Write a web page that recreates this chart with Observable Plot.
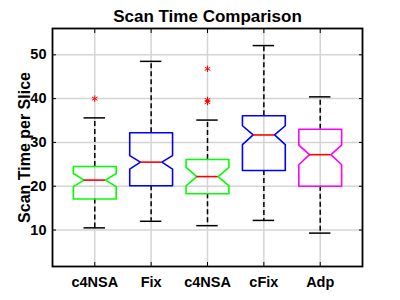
<!DOCTYPE html>
<html><head><meta charset="utf-8">
<script src="https://cdn.jsdelivr.net/npm/d3@7"></script>
<script src="https://cdn.jsdelivr.net/npm/@observablehq/plot@0.6"></script>
<style>body{margin:0;background:#fff}</style>
</head><body><div id="chart"></div>
<script>
// ---- data ----
const categories = ["c4NSA", "Fix", "c4NSA", "cFix", "Adp"];
const q1      = [17.1, 20.1, 18.3, 23.6, 20.0];
const q3      = [24.5, 32.2, 26.1, 36.1, 33.0];
const medians = [21.4, 25.5, 22.2, 31.7, 27.2];
const notchLo = [19.9, 23.9, 20.1, 29.5, 24.9];
const notchHi = [22.9, 27.0, 24.3, 33.8, 29.4];
const whiskLo = [10.5, 12.0, 11.0, 12.2, 9.3];
const whiskHi = [35.6, 48.5, 35.1, 52.1, 40.4];
const outlierGroup = [1, 3, 3, 3];
const outlierValue = [40.0, 46.8, 39.7, 39.2];
const yTicks = [10, 20, 30, 40, 50];

// ---- style ----
const boxColors = ["#00ff00", "#0000ff", "#00ff00", "#0000ff", "#ff00ff"];
const W = 0.38, N = 0.19, C = 0.19;

const idx = categories.map((_, i) => i);
const xTicks = idx.map(i => i + 1);
const outline = [];
idx.forEach(i => {
  const x = i + 1;
  [[x - W, q3[i]], [x + W, q3[i]], [x + W, notchHi[i]], [x + N, medians[i]], [x + W, notchLo[i]],
   [x + W, q1[i]], [x - W, q1[i]], [x - W, notchLo[i]], [x - N, medians[i]], [x - W, notchHi[i]], [x - W, q3[i]]]
    .forEach(p => outline.push({g: i, x: p[0], y: p[1], color: boxColors[i]}));
});
const outliers = outlierGroup.map((g, k) => ({g, v: outlierValue[k]}));
const blank = () => "";

const chart = Plot.plot({
  width: 400, height: 300,
  marginLeft: 52, marginRight: 38, marginTop: 28, marginBottom: 34,
  style: {fontFamily: "'Liberation Sans', Arial, sans-serif", fontSize: "14.5px", fontWeight: "bold", background: "white", color: "black"},
  x: {domain: [0.25, 5.75], label: null},
  y: {domain: [1.68, 56], label: null},
  marks: [
    Plot.gridX({ticks: xTicks, stroke: "#d4d4d4", strokeOpacity: 1, strokeWidth: 1.5}),
    Plot.gridY({ticks: yTicks, stroke: "#d4d4d4", strokeOpacity: 1, strokeWidth: 1.5}),
    Plot.ruleX(idx, {x: i => i + 1, y1: i => q3[i], y2: i => whiskHi[i], stroke: "black", strokeWidth: 1.5, strokeDasharray: "5,3"}),
    Plot.ruleX(idx, {x: i => i + 1, y1: i => q1[i], y2: i => whiskLo[i], stroke: "black", strokeWidth: 1.5, strokeDasharray: "5,3"}),
    Plot.ruleY(idx, {y: i => whiskHi[i], x1: i => i + 1 - C, x2: i => i + 1 + C, stroke: "black", strokeWidth: 1.5}),
    Plot.ruleY(idx, {y: i => whiskLo[i], x1: i => i + 1 - C, x2: i => i + 1 + C, stroke: "black", strokeWidth: 1.5}),
    Plot.line(outline, {x: "x", y: "y", z: "g", stroke: d => d.color, strokeWidth: 1.6}),
    Plot.ruleY(idx, {y: i => medians[i], x1: i => i + 1 - N, x2: i => i + 1 + N, stroke: "#ff0000", strokeWidth: 1.6}),
    Plot.dot(outliers, {x: "g", y: "v", symbol: "asterisk", r: 3, stroke: "#ff0000", strokeWidth: 1}),
    Plot.frame({stroke: "black", strokeWidth: 1.8}),
    Plot.axisX({ticks: xTicks, tickFormat: i => categories[i - 1], tickSize: 0, tickPadding: 10}),
    Plot.axisY({ticks: yTicks, tickSize: 0, tickPadding: 6}),
    Plot.axisX({ticks: xTicks, tickFormat: blank, tickSize: 4, dy: -4}),
    Plot.axisX({anchor: "top", ticks: xTicks, tickFormat: blank, tickSize: 4, dy: 4}),
    Plot.axisY({ticks: yTicks, tickFormat: blank, tickSize: 4, dx: 4}),
    Plot.axisY({anchor: "right", ticks: yTicks, tickFormat: blank, tickSize: 4, dx: -4}),
    Plot.text(["Scan Time Comparison"], {text: d => d, frameAnchor: "top", lineAnchor: "bottom", dy: -7, fontSize: 17, fontWeight: "bold"}),
    Plot.text(["Scan Time per Slice"], {text: d => d, frameAnchor: "left", textAnchor: "middle", rotate: -90, lineAnchor: "bottom", dx: -23, fontSize: 16, fontWeight: "bold"})
  ]
});
document.getElementById("chart").appendChild(chart);
</script>
</body></html>
